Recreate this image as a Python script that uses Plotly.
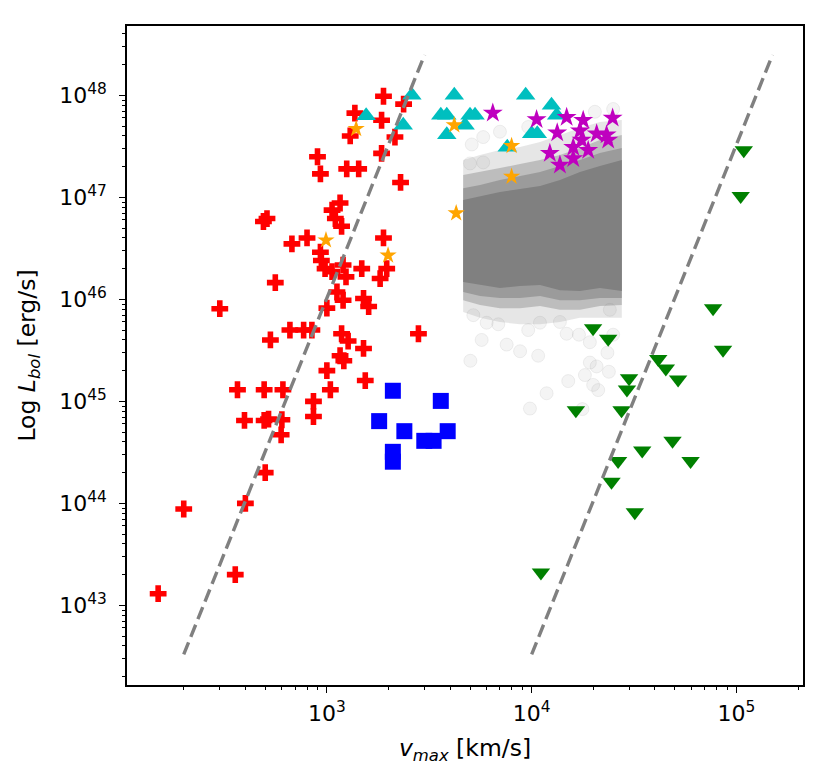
""" Scatter plot of bolometric luminosity against maximum outflow velocity

Several source samples are drawn on log-log axes together with two
power-law guide lines and the cloud of a simulated population.
"""

################################################################################
# Imports

import plotly.graph_objects as go

################################################################################
# Data

# red plus markers
red_v = [1890, 2370, 1370, 1850, 1300, 2150, 1850, 900, 930, 1250,
         1430, 2290, 1160, 1060, 1100, 1180, 510, 490, 675, 800,
         1890, 930, 940, 980, 1060, 1200, 1240, 1480, 1960, 1820,
         560, 1120, 1200, 1510, 1600, 1000, 300, 660, 770, 845,
         530, 1180, 1270, 1510, 2800, 1160, 1210, 1000, 1540, 1040,
         366, 494, 610, 860, 396, 494, 519, 603, 860, 598,
         500, 400, 200, 357, 150]
red_L = [9.8e47, 8.2e47, 6.7e47, 5.7e47, 4.0e47, 3.9e47, 2.7e47, 2.5e47, 1.7e47, 1.9e47,
         1.9e47, 1.4e47, 8.8e46, 7.5e46, 6.2e46, 5.2e46, 6.2e46, 5.8e46, 3.5e46, 4.0e46,
         4.0e46, 2.9e46, 2.4e46, 2.0e46, 1.87e46, 2.17e46, 1.66e46, 2.0e46, 2.0e46, 1.6e46,
         1.46e46, 1.18e46, 9.8e45, 1.02e46, 8.5e45, 8.2e45, 8.1e45, 5.0e45, 5.0e45, 5.0e45,
         4.0e45, 4.6e45, 3.9e45, 3.3e45, 4.6e45, 2.8e45, 2.5e45, 2.0e45, 1.6e45, 1.3e45,
         1.3e45, 1.3e45, 1.3e45, 1.0e45, 6.5e44, 6.5e44, 6.7e44, 6.6e44, 7.1e44, 4.7e44,
         2.0e44, 1.0e44, 8.8e43, 2.0e43, 1.3e43]

# blue squares
blue_v = [2100, 3600, 1800, 2390, 3890, 2990, 3320, 2100, 2100]
blue_L = [1.27e45, 1.01e45, 6.4e44, 5.1e44, 5.1e44, 4.1e44, 4.1e44, 3.2e44, 2.56e44]

# cyan triangles
cyan_v = [2600, 4190, 9350, 1555, 2360, 3600, 3850, 5000, 5290, 4730,
          3850, 12500, 13250, 10000, 10650, 7600]
cyan_L = [1.0e48, 1.0e48, 1.0e48, 6.3e47, 5.1e47, 6.4e47, 6.4e47, 6.4e47, 6.4e47, 5.1e47,
          4.1e47, 8.0e47, 6.4e47, 4.2e47, 4.2e47, 3.1e47]

# magenta stars
magenta_v = [6460, 10570, 14820, 17850, 24850, 13330, 17220, 20770, 23220, 23650,
             17540, 12270, 15960, 18880, 15960, 13740]
magenta_L = [6.7e47, 5.8e47, 6.1e47, 5.7e47, 6.0e47, 4.3e47, 4.5e47, 4.2e47, 4.1e47, 3.65e47,
             3.65e47, 2.7e47, 3.1e47, 2.9e47, 2.4e47, 2.08e47]

# orange stars
orange_v = [1390, 4190, 7980, 7980, 4280, 990, 1990]
orange_L = [4.7e47, 5.1e47, 3.2e47, 1.6e47, 7.0e46, 3.8e46, 2.7e46]

# green triangles
green_v = [108600, 104900, 76900, 86000, 19950, 23640, 41500, 45200, 51900, 29900,
           29200, 16440, 27470, 48730, 34660, 59700, 26430, 24540, 31900, 11100]
green_L = [2.9e47, 1.03e47, 8.2e45, 3.2e45, 5.2e45, 4.1e45, 2.6e45, 2.1e45, 1.64e45, 1.68e45,
           1.31e45, 8.2e44, 8.2e44, 4.1e44, 3.3e44, 2.6e44, 2.6e44, 1.63e44, 8.2e43, 2.1e43]

# isolated points of the simulated population
cloud_v = [20360, 25000, 9620, 7000, 5800, 5100, 5000, 5800,
           5190, 6030, 6870, 9620, 10980, 13740, 14820, 17020, 19240, 25000,
           24090, 5700, 7550, 8780, 10760, 5020, 23440, 19240, 20750, 23830,
           15090, 18200, 19960, 21130, 11830, 9810, 17700]
cloud_L = [6.9e47, 7.35e47, 4.9e47, 4.4e47, 3.9e47, 3.3e47, 2.15e47, 2.2e47,
           7.0e45, 5.9e45, 5.7e45, 5.0e45, 5.9e45, 6.0e45, 4.6e45, 4.5e45, 3.8e45, 4.5e45,
           7.9e45, 4.0e45, 3.6e45, 3.1e45, 2.8e45, 2.5e45, 3.0e45, 2.4e45, 2.2e45, 1.95e45,
           1.58e45, 1.81e45, 1.45e45, 1.29e45, 1.2e45, 8.5e44, 8.4e44]

# density levels of the dense part of the population, read column by column
cloud_cols_v = [4630, 5600, 7000, 8770, 10990, 13750, 17210, 21540, 27560]
halo_top = [2.32e47, 2.60e47, 2.91e47, 3.11e47, 3.49e47, 4.08e47, 4.78e47, 5.47e47, 5.73e47]
halo_bottom = [7.5e45, 6.6e45, 6.0e45, 5.7e45, 5.7e45, 6.0e45, 6.6e45, 6.6e45, 6.6e45]
mid_top = [1.66e47, 1.77e47, 1.94e47, 2.12e47, 2.32e47, 2.60e47, 3.04e47, 3.65e47, 4.08e47]
mid_bottom = [9.8e45, 8.8e45, 8.2e45, 8.2e45, 8.6e45, 7.9e45, 7.9e45, 8.6e45, 8.8e45]
inner_top = [1.23e47, 1.32e47, 1.48e47, 1.62e47, 1.77e47, 2.03e47, 2.32e47, 2.72e47, 3.04e47]
inner_bottom = [1.18e46, 1.08e46, 1.03e46, 1.03e46, 1.08e46, 9.8e45, 9.8e45, 1.03e46, 1.03e46]
core_top = [9.4e46, 1.03e47, 1.13e47, 1.21e47, 1.29e47, 1.48e47, 1.77e47, 2.03e47, 2.32e47]
core_bottom = [1.48e46, 1.38e46, 1.29e46, 1.35e46, 1.38e46, 1.23e46, 1.21e46, 1.29e46, 1.21e46]

# dashed guide lines (end points)
guide_left_v = [200, 3000]
guide_right_v = [10000, 150000]
guide_L = [3.3e42, 2.5e48]

# tick labels
x_tick_vals = [1e3, 1e4, 1e5]
x_tick_text = ["10<sup>3</sup>", "10<sup>4</sup>", "10<sup>5</sup>"]
y_tick_vals = [1e43, 1e44, 1e45, 1e46, 1e47, 1e48]
y_tick_text = ["10<sup>43</sup>", "10<sup>44</sup>", "10<sup>45</sup>",
               "10<sup>46</sup>", "10<sup>47</sup>", "10<sup>48</sup>"]

################################################################################
# Functions

def minor_ticks(first_decade: int, last_decade: int) -> list:
    """Positions 2..9 x 10^n for the minor tick marks"""
    return [d * 10.0 ** n for n in range(first_decade, last_decade + 1) for d in range(2, 10)]


def add_markers(fig: go.Figure, x, y, symbol: str, color: str, size: float):
    """Adds one scatter series of markers"""
    fig.add_trace(go.Scatter(
        x=x, y=y, mode="markers", hoverinfo="skip",
        marker=dict(symbol=symbol, color=color, size=size, line=dict(width=0))))


def add_band(fig: go.Figure, top: list, bottom: list, color: str):
    """Fills the area between an upper and a lower outline of the cloud"""
    fig.add_trace(go.Scatter(
        x=cloud_cols_v + cloud_cols_v[::-1], y=top + bottom[::-1],
        mode="lines", fill="toself", fillcolor=color,
        line=dict(width=0), hoverinfo="skip"))


def build_figure() -> go.Figure:
    fig = go.Figure()

    # simulated population first so every sample sits on top of it
    add_band(fig, halo_top, halo_bottom, "rgba(128,128,128,0.2)")
    add_band(fig, mid_top, mid_bottom, "rgba(128,128,128,0.4)")
    add_band(fig, inner_top, inner_bottom, "rgba(128,128,128,0.55)")
    add_band(fig, core_top, core_bottom, "rgb(128,128,128)")
    fig.add_trace(go.Scatter(
        x=cloud_v, y=cloud_L, mode="markers", hoverinfo="skip",
        marker=dict(symbol="circle", size=13, color="rgba(128,128,128,0.09)",
                    line=dict(width=1, color="rgba(128,128,128,0.12)"))))

    add_markers(fig, red_v, red_L, "cross", "#ff0000", 14)
    add_markers(fig, blue_v, blue_L, "square", "#0000ff", 16)
    add_markers(fig, cyan_v, cyan_L, "triangle-up", "#00bfbf", 17)
    add_markers(fig, magenta_v, magenta_L, "star", "#bf00bf", 15)
    add_markers(fig, orange_v, orange_L, "star", "#ffa500", 13)
    add_markers(fig, green_v, green_L, "triangle-down", "#008000", 16)

    for guide_v in (guide_left_v, guide_right_v):
        fig.add_trace(go.Scatter(
            x=guide_v, y=guide_L, mode="lines", hoverinfo="skip",
            line=dict(color="#808080", width=3.4, dash="13px,6px")))

    axis_style = dict(
        type="log", showgrid=False, zeroline=False,
        showline=True, mirror=True, linecolor="black", linewidth=1.5,
        ticks="outside", ticklen=6, tickwidth=1.3, tickcolor="black",
        tickfont=dict(family="DejaVu Sans", size=22, color="black"),
        tickmode="array")
    title_font = dict(family="DejaVu Sans", size=23.5, color="black")

    fig.update_xaxes(
        **axis_style, range=[2.024, 5.325], ticklabelstandoff=2,
        tickvals=x_tick_vals, ticktext=x_tick_text,
        minor=dict(ticks="outside", ticklen=3.5, tickwidth=1, tickcolor="black",
                   tickmode="array", tickvals=minor_ticks(2, 5), showgrid=False),
        title=dict(text="<i>v</i><sub><i>max</i></sub> [km/s]", standoff=14,
                   font=title_font))
    fig.update_yaxes(
        **axis_style, range=[42.219, 48.68], ticklabelstandoff=8,
        tickvals=y_tick_vals, ticktext=y_tick_text,
        minor=dict(ticks="outside", ticklen=3.5, tickwidth=1, tickcolor="black",
                   tickmode="array", tickvals=minor_ticks(42, 48), showgrid=False),
        title=dict(text="Log <i>L</i><sub><i>bol</i></sub> [erg/s]", standoff=17,
                   font=title_font))

    # the page adds about 8 px around the plot, the margins allow for it
    fig.update_layout(
        width=830, height=781, showlegend=False,
        margin=dict(l=119, r=35, t=18, b=104),
        paper_bgcolor="white", plot_bgcolor="white",
        font=dict(family="DejaVu Sans", color="black"))
    return fig

################################################################################
# Main

fig = build_figure()
fig.write_html("out.html")
